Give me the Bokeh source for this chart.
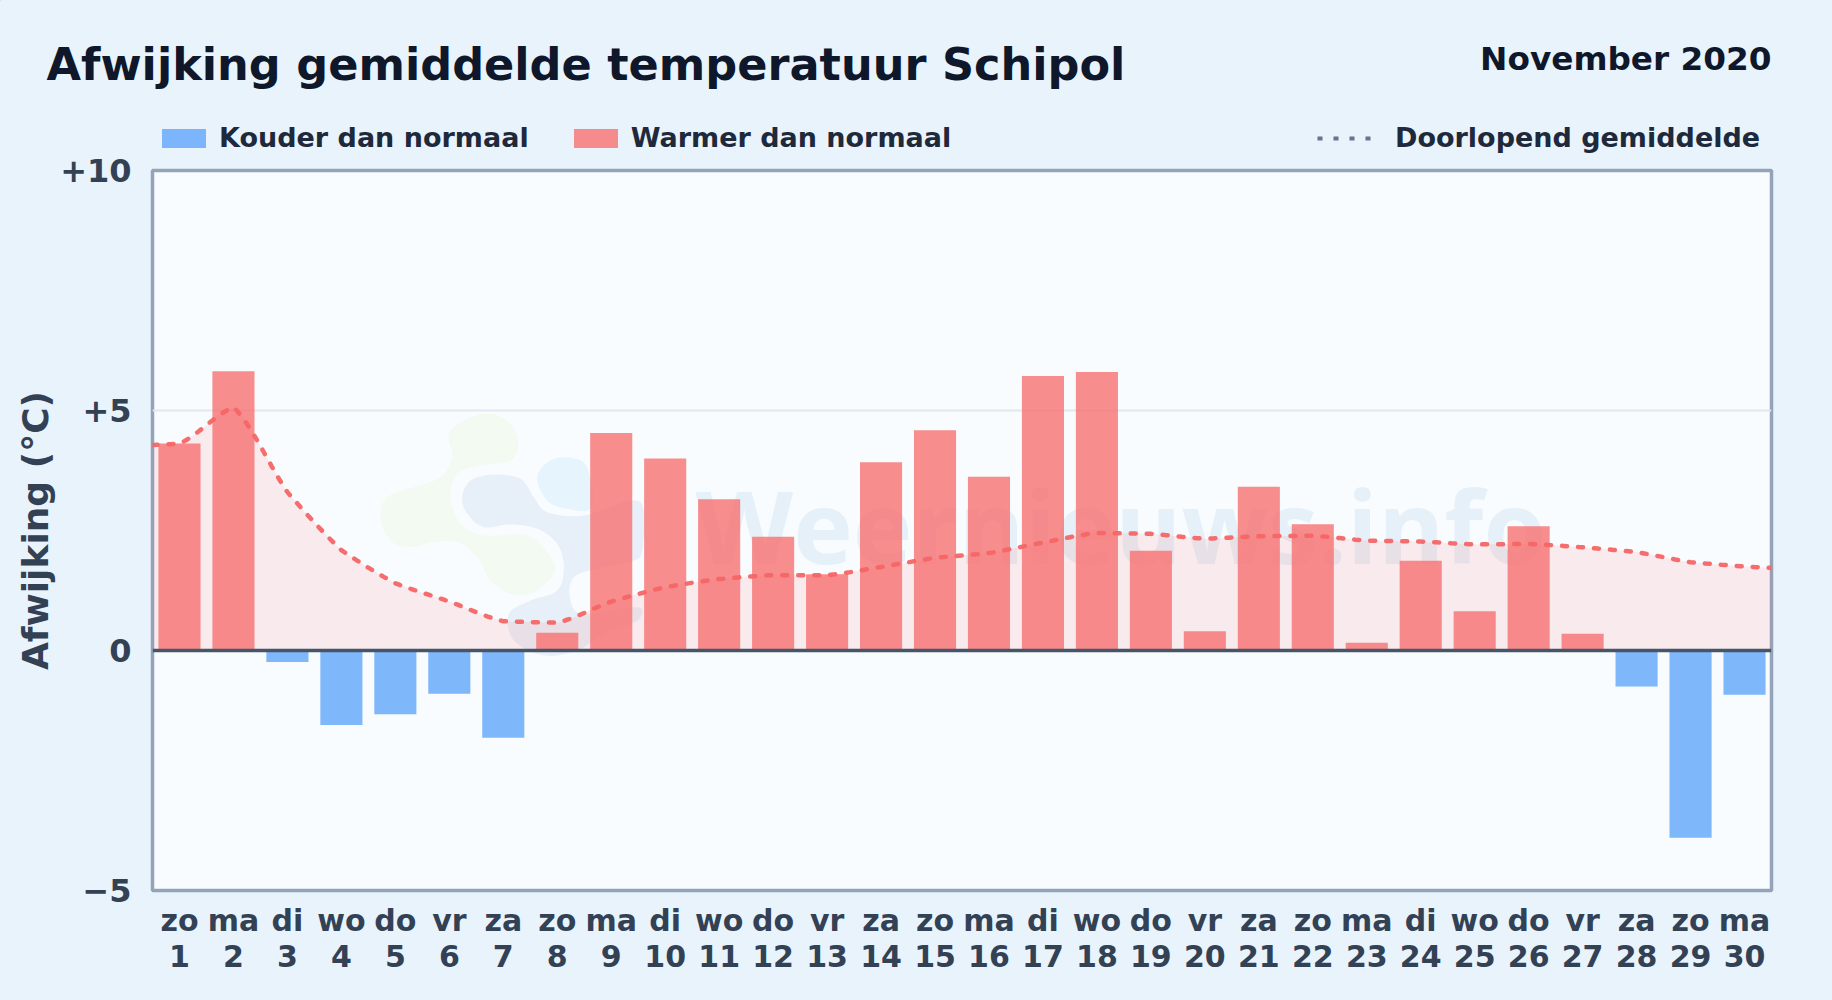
import numpy as np
from bokeh.plotting import figure
from bokeh.layouts import column
from bokeh.models import Label, Legend, LegendItem, Span, FixedTicker, Range1d, LinearAxis
from bokeh.embed import file_html
from bokeh.resources import INLINE

weekdays = ["zo","ma","di","wo","do","vr","za","zo","ma","di","wo","do","vr","za","zo",
            "ma","di","wo","do","vr","za","zo","ma","di","wo","do","vr","za","zo","ma"]
days = list(range(1, 31))
deviation = [4.31,5.82,-0.24,-1.55,-1.33,-0.90,-1.82,0.37,4.53,4.00,3.15,2.37,1.59,3.92,4.59,
             3.62,5.72,5.80,2.08,0.40,3.41,2.63,0.16,1.87,0.82,2.59,0.35,-0.75,-3.90,-0.92]
running_x = [0.5] + days + [30.5]
running_mean = [4.28,4.31,5.07,3.30,2.09,1.40,1.02,0.61,0.58,1.02,1.32,1.49,1.57,1.57,1.74,1.93,
                2.03,2.25,2.45,2.43,2.33,2.38,2.39,2.29,2.27,2.21,2.22,2.15,2.05,1.84,1.75,1.72]
y_ticks = [-5, 0, 5, 10]
y_tick_labels = {-5: "\u22125", 0: "0", 5: "+5", 10: "+10"}

BG = "#e8f3fc"
HEADER_H = 153
WIDTH, HEIGHT = 1832, 1000
FRAME_L, FRAME_T, FRAME_W, FRAME_H = 152, 170, 1619, 720
FONT = "DejaVu Sans"
WARM, COLD, ALPHA = "#f87171", "#60a5fa", 0.8

def monotone(xs, ys, n=14, blend=0.4):
    xs, ys = np.asarray(xs, float), np.asarray(ys, float)
    h = np.diff(xs); d = np.diff(ys) / h
    m = np.zeros_like(xs)
    m[0], m[-1] = d[0], d[-1]
    for i in range(1, len(xs) - 1):
        m[i] = 0 if d[i-1] * d[i] <= 0 else 2 * d[i-1] * d[i] / (d[i-1] + d[i])
    ox, oy = [], []
    for i in range(len(h)):
        t = np.linspace(0, 1, n, endpoint=False)
        herm = ((2*t**3-3*t**2+1)*ys[i] + (t**3-2*t**2+t)*h[i]*m[i]
                + (-2*t**3+3*t**2)*ys[i+1] + (t**3-t**2)*h[i]*m[i+1])
        lin = ys[i] + t * (ys[i+1] - ys[i])
        ox += list(xs[i] + t * h[i])
        oy += list(blend * herm + (1 - blend) * lin)
    return np.array(ox + [xs[-1]]), np.array(oy + [ys[-1]])

def closed_smooth(pts, n=10):
    p_ = np.array(pts, float); N = len(p_); out = []
    for i in range(N):
        a, b, c, d = p_[i-1], p_[i], p_[(i+1) % N], p_[(i+2) % N]
        for t in np.linspace(0, 1, n, endpoint=False):
            out.append(0.5*((2*b)+(-a+c)*t+(2*a-5*b+4*c-d)*t**2+(-a+3*b-3*c+d)*t**3))
    return np.array(out)

# ---------- header: title, month, legend ----------
hd = figure(width=WIDTH, height=HEADER_H, output_backend="svg", toolbar_location=None,
            x_range=Range1d(0, WIDTH), y_range=Range1d(HEADER_H, 0),
            min_border=0, background_fill_color=BG, border_fill_color=BG, frame_align=False)
hd.axis.visible = False; hd.grid.visible = False; hd.outline_line_color = None

def head_label(text, x, baseline, size, align="left"):
    hd.add_layout(Label(x=x, y=baseline, text=text, text_font=FONT, text_font_style="bold",
                        text_font_size=size, text_color="#0f172a", text_align=align,
                        text_baseline="alphabetic"))

head_label("Afwijking gemiddelde temperatuur Schipol", 46, 64, "44.6px")
head_label("November 2020", 1771, 58, "32.7px", "right")

# legend keys live outside the visible range
off = [-500, -400]
cold_key = hd.vbar(off, top=off, bottom=off, width=1, fill_color=COLD, fill_alpha=ALPHA, line_color=None)
warm_key = hd.vbar(off, top=off, bottom=off, width=1, fill_color=WARM, fill_alpha=ALPHA, line_color=None)
line_key = hd.line(off, off, line_color="#64748b", line_width=4, line_dash="5 11")

def style_legend(lg):
    lg.background_fill_color = None; lg.border_line_color = None
    lg.padding = 0; lg.margin = 0; lg.spacing = 0
    lg.label_text_font = FONT; lg.label_text_font_style = "bold"; lg.label_text_font_size = "27px"
    lg.label_text_color = "#1e293b"; lg.glyph_width = 55; lg.glyph_height = 24; lg.label_standoff = 8
    lg.label_height = 19

l1 = Legend(items=[LegendItem(label="Kouder dan normaal", renderers=[cold_key]),
                   LegendItem(label="Warmer dan normaal", renderers=[warm_key])],
            orientation="horizontal", location=(156, 0))
style_legend(l1); l1.spacing = 39
l2 = Legend(items=[LegendItem(label="Doorlopend gemiddelde", renderers=[line_key])],
            location=(1317, 0))
style_legend(l2); l2.glyph_width = 60; l2.label_standoff = 18
hd.add_layout(l1, "center"); hd.add_layout(l2, "center")

# ---------- main chart ----------
MAIN_H = HEIGHT - HEADER_H
p = figure(width=WIDTH, height=MAIN_H, output_backend="svg", toolbar_location=None,
           x_range=Range1d(0.5, 30.5), y_range=Range1d(-5, 10), frame_align=False,
           min_border_left=FRAME_L, min_border_top=FRAME_T - HEADER_H, min_border_right=WIDTH-FRAME_L-FRAME_W,
           min_border_bottom=HEIGHT-FRAME_T-FRAME_H,
           background_fill_color="#f8fcff", border_fill_color=BG)
p.outline_line_color = "#94a3b8"; p.outline_line_width = 3.5

def to_x(px): return 0.5 + (px - FRAME_L) / (FRAME_W / 30)
def to_y(py): return (FRAME_T + FRAME_H / 1.5 - py) / (FRAME_H / 15)

def blob(zoom_pts, color):
    pts = closed_smooth(zoom_pts)
    p.patch(to_x(370 + pts[:, 0] / 3), to_y(400 + pts[:, 1] / 3), fill_color=color, line_color=None)

blob([(235,100),(290,55),(360,40),(420,70),(445,130),(420,180),(330,195),(260,220),(240,290),(270,370),
      (340,405),(470,405),(540,470),(550,520),(490,575),(420,580),(360,540),(320,470),(260,425),(190,425),
      (120,440),(60,420),(30,350),(50,290),(130,260),(210,230),(245,170)], "#f3faf1")
blob([(275,290),(300,240),(370,222),(450,235),(490,290),(530,335),(640,345),(780,300),(820,330),(815,450),
      (790,480),(700,500),(610,530),(600,600),(640,640),(800,620),(800,660),(700,700),(620,750),(520,765),
      (430,720),(415,640),(480,600),(560,570),(580,500),(560,430),(500,385),(420,372),(340,380),(290,340)], "#e7f0f9")
blob([(500,230),(540,180),(600,172),(650,200),(665,320),(590,325),(530,300)], "#e6f4fe")
p.add_layout(Label(x=to_x(695), y=to_y(524), text="Weernieuws.info", text_font="Open Sans",
                   text_font_style="bold", text_font_size="101px", text_color="#e6f0f9",
                   text_baseline="alphabetic", level="underlay"))

p.xgrid.visible = False
p.ygrid.ticker = FixedTicker(ticks=y_ticks)
p.ygrid.grid_line_color = "#e0e7ef"; p.ygrid.grid_line_width = 2

sx, sy = monotone(running_x, running_mean)
p.varea(sx, 0, sy, fill_color=WARM, fill_alpha=0.13)

warm_x = [d for d, v in zip(days, deviation) if v >= 0]
warm_v = [v for v in deviation if v >= 0]
cold_x = [d for d, v in zip(days, deviation) if v < 0]
cold_v = [v for v in deviation if v < 0]
p.vbar(cold_x, top=cold_v, bottom=0, width=0.78, fill_color=COLD, fill_alpha=ALPHA, line_color=None)
p.vbar(warm_x, top=warm_v, bottom=0, width=0.78, fill_color=WARM, fill_alpha=ALPHA, line_color=None)
p.line(sx, sy, line_color="#f56565", line_width=4.5, line_dash="5 11", line_cap="round", line_alpha=0.95)
p.add_layout(Span(location=0, dimension="width", line_color="#475569", line_width=3.5))

# axes
p.yaxis.ticker = FixedTicker(ticks=y_ticks)
p.yaxis.major_label_overrides = y_tick_labels
p.yaxis.axis_label = "Afwijking (\u00b0C)"
p.yaxis.axis_label_text_font = FONT; p.yaxis.axis_label_text_font_style = "bold"
p.yaxis.axis_label_text_font_size = "36px"; p.yaxis.axis_label_text_color = "#334155"
p.yaxis.axis_label_standoff = 1
p.yaxis.major_label_text_font_size = "32px"; p.yaxis.major_label_standoff = 15

p.xaxis.ticker = FixedTicker(ticks=days)
p.xaxis.major_label_overrides = {d: w for d, w in zip(days, weekdays)}
p.xaxis.major_label_standoff = 6
day_axis = LinearAxis(ticker=FixedTicker(ticks=days), major_label_standoff=-2)
p.add_layout(day_axis, "below")
for ax in [p.xaxis[0], day_axis, p.yaxis[0]]:
    ax.axis_line_color = None; ax.major_tick_line_color = None; ax.minor_tick_line_color = None
    ax.major_label_text_font = FONT; ax.major_label_text_font_style = "bold"
    ax.major_label_text_color = "#334155"
p.xaxis[0].major_label_text_font_size = "30px"
day_axis.major_label_text_font_size = "30px"

html = file_html(column(hd, p, spacing=0), INLINE, "Afwijking gemiddelde temperatuur Schipol")
html = html.replace("<head>", f"<head><style>html,body{{background:{BG};}}</style>", 1)
open("out.html", "w").write(html)
